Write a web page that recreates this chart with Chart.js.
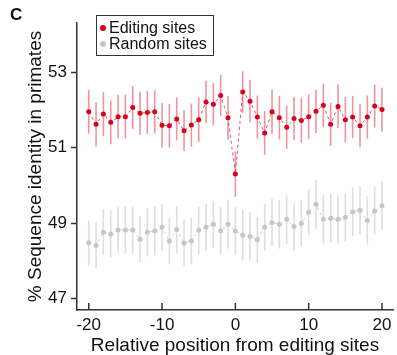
<!DOCTYPE html>
<html>
<head>
<meta charset="utf-8">
<script src="https://cdn.jsdelivr.net/npm/chart.js@4"></script>
<style>
  body { margin: 0; background: #fff; font-family: "Liberation Sans", Arial, sans-serif; }
  #wrap { position: relative; width: 397px; height: 355px; }
  #panel { position: absolute; left: 10px; top: 5px; font-weight: bold; font-size: 17px; color: #111; }
  #legend {
    position: absolute; left: 96px; top: 15px; width: 116px; height: 39px;
    border: 1.5px solid #333; background: #fff; font-size: 16px; color: #111;
  }
  #legend div { position: absolute; left: 12px; line-height: 16px; }
  #legend span {
    position: absolute; left: -9px; top: 5px; width: 6px; height: 6px; border-radius: 50%;
  }
</style>
</head>
<body>
<div id="wrap">
  <canvas id="chart" width="397" height="355"></canvas>
  <div id="panel">C</div>
  <div id="legend">
    <div style="top: 4px"><span style="background:#d9001b"></span>Editing sites</div>
    <div style="top: 20px"><span style="background:#c4c4c4"></span>Random sites</div>
  </div>
</div>
<script>
// relative position from editing site
const positions = [-20, -19, -18, -17, -16, -15, -14, -13, -12, -11, -10, -9, -8, -7, -6, -5, -4, -3, -2, -1,
  0, 1, 2, 3, 4, 5, 6, 7, 8, 9, 10, 11, 12, 13, 14, 15, 16, 17, 18, 19, 20];

// % identity around editing sites, with error bar half-widths
const editingValues = [51.95, 51.62, 51.89, 51.67, 51.82, 51.82, 52.06, 51.91, 51.93, 51.95,
  51.59, 51.58, 51.76, 51.45, 51.60, 51.74, 52.21, 52.15, 52.38, 51.79,
  50.30, 52.47, 52.23, 51.81, 51.39, 51.95, 51.79, 51.54, 51.77, 51.72,
  51.82, 51.96, 52.12, 51.62, 52.09, 51.74, 51.81, 51.58, 51.81, 52.10, 52.01];
const editingErrors = [0.58, 0.59, 0.58, 0.58, 0.58, 0.58, 0.57, 0.57, 0.57, 0.57,
  0.59, 0.58, 0.57, 0.54, 0.57, 0.59, 0.56, 0.56, 0.55, 0.58,
  0.60, 0.55, 0.56, 0.57, 0.58, 0.58, 0.58, 0.57, 0.57, 0.59,
  0.59, 0.58, 0.58, 0.57, 0.58, 0.60, 0.56, 0.57, 0.57, 0.57, 0.58];

// % identity around random sites
const randomValues = [48.48, 48.41, 48.76, 48.71, 48.82, 48.82, 48.82, 48.57, 48.76, 48.79,
  48.89, 48.52, 48.83, 48.47, 48.53, 48.81, 48.89, 48.97, 48.79, 48.97,
  48.79, 48.68, 48.65, 48.56, 48.89, 49.02, 48.97, 49.10, 48.91, 48.99,
  49.29, 49.50, 49.10, 49.13, 49.10, 49.15, 49.30, 49.34, 49.07, 49.32, 49.46];
const randomErrors = [0.60, 0.61, 0.61, 0.63, 0.62, 0.62, 0.62, 0.62, 0.64, 0.64,
  0.62, 0.61, 0.62, 0.62, 0.62, 0.64, 0.62, 0.62, 0.63, 0.64,
  0.64, 0.66, 0.64, 0.61, 0.62, 0.62, 0.64, 0.64, 0.64, 0.62,
  0.61, 0.65, 0.64, 0.64, 0.64, 0.64, 0.64, 0.64, 0.64, 0.64, 0.64];

const xTicks = [-20, -10, 0, 10, 20];
const yTicks = [47, 49, 51, 53];

const toPoints = vals => vals.map((v, i) => ({ x: positions[i], y: v }));

// vertical error bars, drawn behind the points
const errorBars = {
  id: 'errorBars',
  beforeDatasetsDraw(chart) {
    const { ctx, scales: { x, y } } = chart;
    chart.data.datasets.forEach(ds => {
      ctx.save();
      ctx.strokeStyle = ds.errorColor;
      ctx.lineWidth = 1.6;
      ds.data.forEach((p, i) => {
        const px = x.getPixelForValue(p.x);
        ctx.beginPath();
        ctx.moveTo(px, y.getPixelForValue(p.y + ds.errors[i]));
        ctx.lineTo(px, y.getPixelForValue(p.y - ds.errors[i]));
        ctx.stroke();
      });
      ctx.restore();
    });
  }
};

// x ticks point up into the plot
const innerTicks = {
  id: 'innerTicks',
  afterDraw(chart) {
    const { ctx, scales: { x }, chartArea } = chart;
    ctx.save();
    ctx.strokeStyle = '#333';
    ctx.lineWidth = 1.5;
    xTicks.forEach(t => {
      const px = x.getPixelForValue(t);
      ctx.beginPath();
      ctx.moveTo(px, chartArea.bottom);
      ctx.lineTo(px, chartArea.bottom - 7);
      ctx.stroke();
    });
    ctx.restore();
  }
};

new Chart(document.getElementById('chart'), {
  type: 'line',
  data: {
    datasets: [
      {
        label: 'Editing sites',
        data: toPoints(editingValues),
        errors: editingErrors,
        errorColor: 'rgba(226, 60, 80, 0.55)',
        borderColor: 'rgba(222, 50, 70, 0.85)',
        borderWidth: 1,
        borderDash: [3, 3],
        pointBackgroundColor: '#d9001b',
        pointBorderWidth: 0,
        pointRadius: 2.5,
      },
      {
        label: 'Random sites',
        data: toPoints(randomValues),
        errors: randomErrors,
        errorColor: '#dedede',
        borderColor: '#d0d0d0',
        borderWidth: 1,
        borderDash: [3, 3],
        pointBackgroundColor: '#c6c6c6',
        pointBorderWidth: 0,
        pointRadius: 2.5,
      },
    ],
  },
  options: {
    responsive: false,
    animation: false,
    layout: { padding: { top: 23, right: 2, left: 0, bottom: 0 } },
    plugins: { legend: { display: false }, tooltip: { enabled: false } },
    scales: {
      x: {
        type: 'linear',
        min: -21.6,
        max: 21.5,
        afterBuildTicks: s => { s.ticks = xTicks.map(v => ({ value: v })); },
        afterFit: s => { s.height = 45; },
        grid: { display: false, drawTicks: false },
        border: { color: '#333', width: 1.5 },
        ticks: { padding: 5, color: '#111', font: { family: 'Liberation Sans', size: 17 } },
        title: {
          display: true,
          text: 'Relative position from editing sites',
          color: '#111',
          font: { family: 'Liberation Sans', size: 19, lineHeight: 1 },
          padding: { top: 0, bottom: 0 },
        },
      },
      y: {
        min: 46.7,
        max: 54.3,
        afterBuildTicks: s => { s.ticks = yTicks.map(v => ({ value: v })); },
        afterFit: s => { s.width = 77; },
        grid: { drawOnChartArea: false, tickLength: 6, color: '#333', tickWidth: 1.5 },
        border: { color: '#333', width: 1.5 },
        ticks: { padding: 4, color: '#111', font: { family: 'Liberation Sans', size: 17 } },
        title: {
          display: true,
          text: '% Sequence identity in primates',
          color: '#111',
          font: { family: 'Liberation Sans', size: 19, lineHeight: 1 },
          padding: { top: 26, bottom: 0 },
        },
      },
    },
  },
  plugins: [errorBars, innerTicks],
});
</script>
</body>
</html>
